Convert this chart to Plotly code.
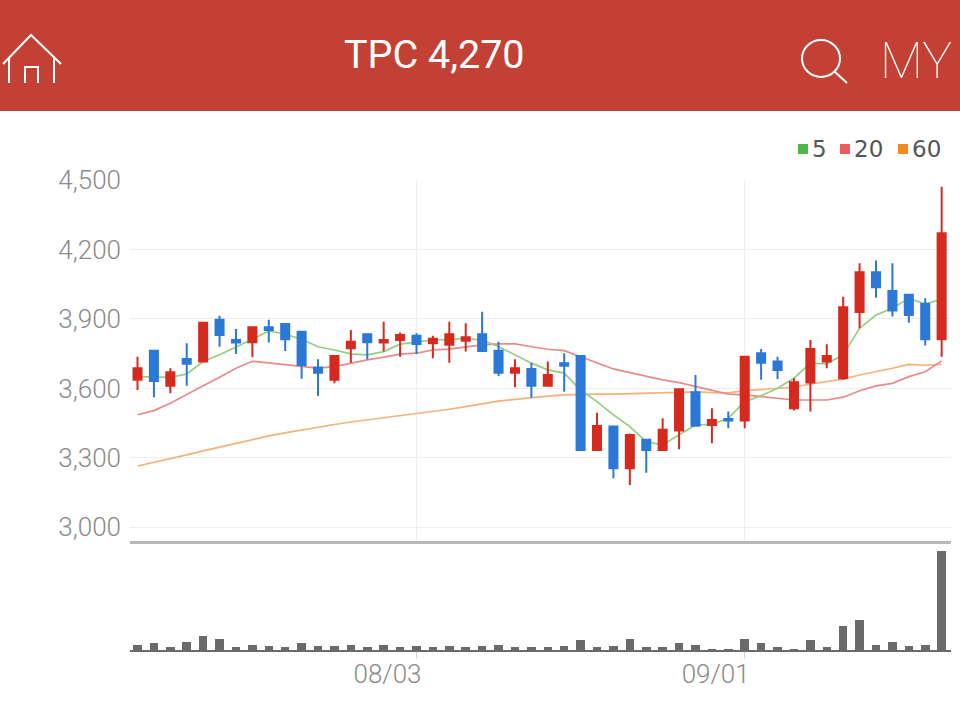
import plotly.graph_objects as go

W, H = 960, 715

title_text = "TPC 4,270"
tick_values = [3000, 3300, 3600, 3900, 4200, 4500]
date_ticks = [17, 37]
date_labels = ["08/03", "09/01"]

idx = list(range(50))
open_ = [3637,3763,3611,3727,3716,3896,3809,3799,3864,3878,3845,3690,3637,3773,3834,3798,3809,3827,3795,3788,3806,3834,3763,3668,3684,3611,3709,3740,3334,3435,3255,3378,3334,3418,3583,3442,3468,3461,3752,3716,3514,3625,3716,3644,3930,4102,4021,4004,3965,3812]
close = [3687,3632,3670,3706,3884,3831,3798,3864,3852,3812,3701,3668,3740,3802,3799,3809,3831,3792,3814,3834,3821,3762,3668,3687,3611,3658,3698,3334,3438,3255,3399,3334,3421,3596,3439,3464,3461,3737,3711,3680,3627,3770,3740,3950,4102,4037,3936,3917,3812,4270]
high = [3737,3763,3687,3795,3888,3914,3857,3864,3896,3878,3845,3726,3740,3852,3834,3888,3841,3838,3827,3888,3881,3931,3802,3726,3711,3716,3752,3740,3495,3435,3405,3378,3471,3596,3658,3514,3500,3737,3770,3737,3644,3809,3791,3996,4140,4152,4140,4008,3989,4471]
low = [3593,3562,3579,3611,3716,3780,3749,3735,3798,3762,3642,3567,3622,3711,3726,3759,3737,3749,3730,3711,3759,3762,3654,3605,3560,3611,3586,3334,3334,3212,3183,3236,3334,3337,3439,3363,3428,3428,3637,3641,3505,3500,3687,3637,3860,3992,3910,3884,3785,3737]
volume = [16,21,8,25,42,34,8,16,11,8,21,11,11,16,8,16,8,12,8,12,8,12,16,8,8,8,12,30,8,12,34,8,8,21,16,2,2,34,21,8,2,30,8,73,90,16,25,12,16,295]
ma5 = [3651,3650,3648,3662,3716,3745,3778,3812,3848,3834,3812,3780,3766,3749,3745,3759,3791,3799,3809,3812,3816,3809,3780,3745,3709,3680,3666,3593,3543,3486,3435,3370,3356,3400,3442,3445,3471,3543,3568,3601,3644,3709,3706,3745,3860,3917,3946,3989,3965,3985]
ma20 = [3486,3504,3536,3572,3611,3648,3687,3717,3709,3701,3694,3688,3694,3709,3723,3735,3748,3752,3766,3770,3780,3788,3792,3792,3780,3769,3763,3737,3709,3684,3668,3651,3637,3625,3608,3590,3575,3572,3565,3560,3550,3550,3550,3562,3590,3611,3622,3651,3672,3719]
ma60 = [3265,3280,3297,3313,3330,3346,3364,3380,3395,3408,3421,3433,3444,3455,3464,3472,3480,3489,3498,3510,3521,3534,3545,3553,3561,3567,3572,3575,3575,3575,3577,3579,3581,3583,3585,3582,3581,3590,3595,3600,3605,3619,3629,3640,3658,3672,3687,3704,3700,3704]

RED = "#d62a1e"
BLUE = "#2b78d6"
GRID = "#eeeeee"
TICK = "#8a8a8a"
HEADER = "#c24134"
FONT = "Roboto"


def px(x):
    return x / W


def py(y):
    return 1 - y / H


fig = go.Figure()
for name, vals, col in [("60", ma60, "#f2b27c"), ("20", ma20, "#e88a8a"), ("5", ma5, "#93cf83")]:
    fig.add_trace(go.Scatter(x=idx, y=vals, name=name, mode="lines", line=dict(color=col, width=1.7),
                             xaxis="x", yaxis="y", showlegend=False))
fig.add_trace(go.Candlestick(
    x=idx, open=open_, high=high, low=low, close=close, xaxis="x", yaxis="y3", whiskerwidth=0,
    increasing=dict(line=dict(color=RED, width=2), fillcolor=RED),
    decreasing=dict(line=dict(color=BLUE, width=2), fillcolor=BLUE),
    showlegend=False))
fig.add_trace(go.Bar(x=idx, y=volume, xaxis="x2", yaxis="y2", marker=dict(color="#6a6a6a", line=dict(width=0)),
                     width=0.52, showlegend=False))

xrange_ = [-0.457, 49.57]
yrange_ = [2941, 4500]
dom_x = [px(130), px(951)]
dom_main = [py(541), py(180)]
dom_vol = [py(650), py(541)]

shapes = [
    dict(type="rect", xref="paper", yref="paper", x0=0, x1=1, y0=py(111), y1=1,
         fillcolor=HEADER, line=dict(width=0), layer="above"),
]
# header icons
white = dict(color="white", width=2)


def p(points):
    return "M " + " L ".join(f"{px(a):.5f},{py(b):.5f}" for a, b in points)


for pts in ([(3, 64), (31, 35), (61, 64)], [(9, 57), (9, 83)], [(54, 57), (54, 83)],
            [(25, 83), (25, 67), (38, 67), (38, 83)], [(835, 72), (847, 83)]):
    shapes.append(dict(type="path", xref="paper", yref="paper", path=p(pts), line=white, layer="above"))
shapes.append(dict(type="circle", xref="paper", yref="paper", x0=px(802), x1=px(840), y0=py(77), y1=py(40),
                   line=white, layer="above"))
# legend swatches
for x0, col in [(798, "#4db848"), (840, "#ee5a5a"), (898, "#f28a1c")]:
    shapes.append(dict(type="rect", xref="paper", yref="paper", x0=px(x0), x1=px(x0 + 10), y0=py(154), y1=py(144),
                       fillcolor=col, line=dict(width=0), layer="above"))

annotations = [
    dict(text=title_text, x=px(434.5), y=py(55), xref="paper", yref="paper", showarrow=False,
         font=dict(family=FONT, size=39.5, color="white"), xanchor="center", yanchor="middle"),
    dict(text="MY", x=px(916), y=py(61), xref="paper", yref="paper", showarrow=False,
         font=dict(family=FONT, size=50, color="white", weight=100), xanchor="center", yanchor="middle"),
]
for x0, t in [(812, "5"), (854, "20"), (912, "60")]:
    annotations.append(dict(text=t, x=px(x0), y=py(149), xref="paper", yref="paper", showarrow=False,
                            xanchor="left", yanchor="middle", xshift=-2,
                            font=dict(family="DejaVu Sans", size=23, color="#555555")))

fig.update_layout(
    width=W, height=H, margin=dict(l=0, r=0, t=0, b=0), paper_bgcolor="white", plot_bgcolor="white",
    showlegend=False, shapes=shapes, annotations=annotations, bargap=0,
    xaxis=dict(domain=dom_x, range=xrange_, anchor="y", tickmode="array", tickvals=date_ticks, ticktext=["", ""],
               showgrid=True, gridcolor=GRID, gridwidth=1, showline=True, linecolor="#b8b8b8", linewidth=3,
               zeroline=False, ticks="", rangeslider=dict(visible=False), automargin=False),
    yaxis=dict(domain=dom_main, range=yrange_, tickmode="array", tickvals=tick_values, tickformat=",d",
               showgrid=True, gridcolor=GRID, gridwidth=1, zeroline=False, ticks="", ticklabelstandoff=8,
               tickfont=dict(family=FONT, size=26, color=TICK, weight=300), showline=False, automargin=False),
    yaxis3=dict(overlaying="y", range=yrange_, visible=False, anchor="x", automargin=False),
    xaxis2=dict(domain=dom_x, range=xrange_, anchor="y2", tickmode="array", tickvals=date_ticks, ticktext=date_labels,
                showgrid=False, showline=True, linecolor="#6a6a6a", linewidth=2, zeroline=False,
                ticks="outside", ticklen=7, tickcolor="#d5d5d5", tickwidth=1, ticklabelshift=-29, ticklabelstandoff=-7,
                tickfont=dict(family=FONT, size=26, color=TICK, weight=300), automargin=False),
    yaxis2=dict(domain=dom_vol, range=[0, 325], visible=False, anchor="x2", automargin=False),
)

fig.write_html("out.html", config=dict(displayModeBar=False),
               post_script="document.body.style.margin='0';")
